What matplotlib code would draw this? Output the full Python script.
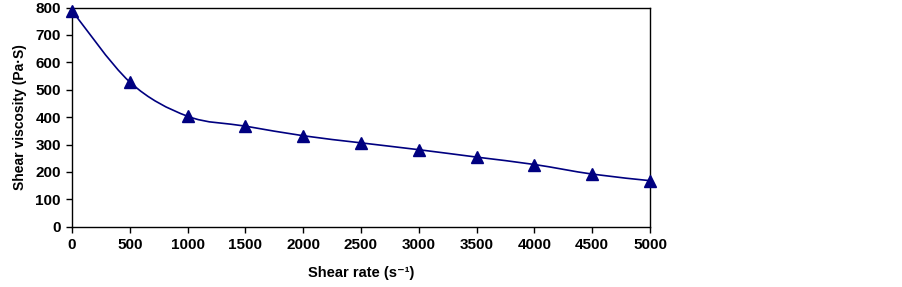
import numpy as np
import matplotlib
matplotlib.use('Agg')
import matplotlib.pyplot as plt
from matplotlib.path import Path
from matplotlib.patches import PathPatch

plt.rcParams['font.family'] = ['Liberation Sans', 'DejaVu Sans']

shearRate = [0, 500, 1000, 1500, 2000, 2500, 3000, 3500, 4000, 4500, 5000]
viscosity = [788, 528, 403, 367, 332, 306, 281, 254, 227, 192, 168]
xTicks = [0, 500, 1000, 1500, 2000, 2500, 3000, 3500, 4000, 4500, 5000]
yTicks = [0, 100, 200, 300, 400, 500, 600, 700, 800]

lineColor = '#000080'

fig = plt.figure(figsize=(9.02, 2.87), dpi=100)
ax = fig.add_axes([72/902, 1 - 226.7/287, 578/902, 219.2/287])

# smoothed line like a spreadsheet chart (bezier through the points)
x = np.array(shearRate, dtype=float)
y = np.array(viscosity, dtype=float)
verts = [(x[0], y[0])]
codes = [Path.MOVETO]
n = len(x)
for i in range(n - 1):
	x0, y0 = (x[i-1], y[i-1]) if i > 0 else (x[i], y[i])
	x3, y3 = (x[i+2], y[i+2]) if i + 2 < n else (x[i+1], y[i+1])
	c1 = (x[i] + (x[i+1] - x0) / 6, y[i] + (y[i+1] - y0) / 6)
	c2 = (x[i+1] - (x3 - x[i]) / 6, y[i+1] - (y3 - y[i]) / 6)
	verts += [c1, c2, (x[i+1], y[i+1])]
	codes += [Path.CURVE4, Path.CURVE4, Path.CURVE4]
ax.add_patch(PathPatch(Path(verts, codes), facecolor='none', edgecolor=lineColor, lw=1.2, clip_on=False))

ax.plot(shearRate, viscosity, linestyle='none', marker='^', markersize=8.5,
	color=lineColor, clip_on=False, zorder=5)

ax.set_xlim(0, 5000)
ax.set_ylim(0, 800)
ax.set_xticks(xTicks)
ax.set_yticks(yTicks)
ax.tick_params(direction='out', length=4, width=1, labelsize=11, pad=4)
for lab in ax.get_xticklabels() + ax.get_yticklabels():
	lab.set_fontweight('bold')
for sp in ax.spines.values():
	sp.set_linewidth(1)
	sp.set_color('black')

ax.set_xlabel('Shear rate (s\u207b\u00b9)', fontsize=10.5, fontweight='bold', labelpad=10)
ax.set_ylabel('Shear viscosity (Pa\u00b7S)', fontsize=10, fontweight='bold', labelpad=6)

fig.savefig('out.png', dpi=100)
